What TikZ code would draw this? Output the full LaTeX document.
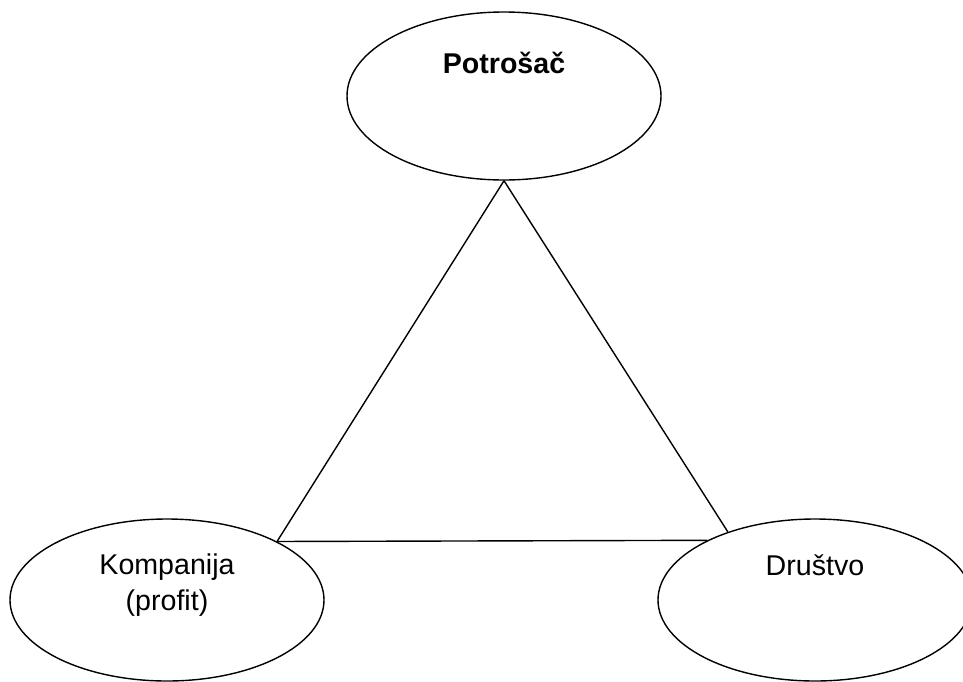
\documentclass[tikz,border=0pt]{standalone}
\usepackage{fontspec}
\setmainfont{Liberation Sans}
\usetikzlibrary{shapes}

\tikzset{
  krug/.style={ellipse,draw=black,line width=0.7pt,inner sep=0pt,minimum width=157pt},
  tekst/.style={align=center,font=\fontsize{14.3}{18}\selectfont}
}

\begin{document}
\begin{tikzpicture}[x=0.5pt,y=-0.5pt,line width=0.7pt]
        \useasboundingbox (0,0) rectangle (963,681);
        % the three ellipses
        \node[krug,minimum height=84pt] (potrosac) at (504,96) {};
        \node[krug,minimum height=81pt] (kompanija) at (167,600) {};
        \node[krug,minimum height=81pt] (drustvo) at (815,600) {};
        % texts
        \node[tekst] (potrosacT) at (504,63) {\textbf{Potrošač}};
        \node[tekst] (kompanijaT) at (167,585) {Kompanija\\(profit)};
        \node[tekst] (drustvoT) at (815,565) {Društvo};
        % triangle
        \draw (potrosac.south) -- (kompanija.28.5);
        \draw (potrosac.south) -- (drustvo.142.9);
        \draw (kompanija.28.5) -- (drustvo.151.5);
\end{tikzpicture}
\end{document}
